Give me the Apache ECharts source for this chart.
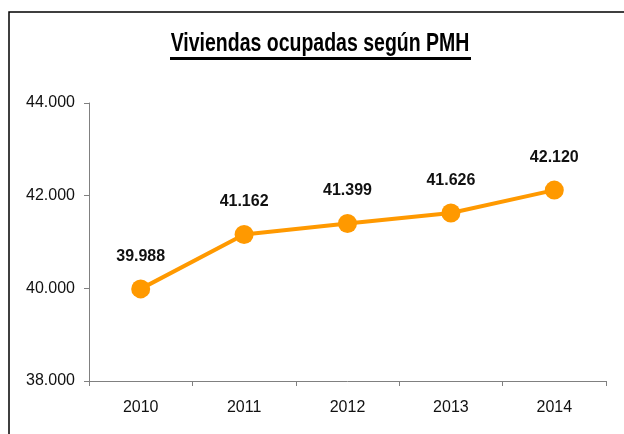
<!DOCTYPE html>
<html>
<head>
<meta charset="utf-8">
<style>
  html, body { margin: 0; padding: 0; background: #fff; }
  #chart { width: 624px; height: 434px; }
</style>
<script src="https://cdn.jsdelivr.net/npm/echarts@6/dist/echarts.min.js"></script>
</head>
<body>
<div id="chart"></div>
<script>
  // data
  var years = ['2010', '2011', '2012', '2013', '2014'];
  var viviendas = [39988, 41162, 41399, 41626, 42120];
  var yTicks = { min: 38000, max: 44000, interval: 2000 };
  var chartTitle = 'Viviendas ocupadas según PMH';

  function miles(v) {
    // 41162 -> "41.162"
    return (v / 1000).toFixed(3);
  }

  var myChart = echarts.init(document.getElementById('chart'));
  var font = 'Liberation Sans, Arial, sans-serif';

  var option = {
    backgroundColor: '#fff',
    animation: false,
    graphic: [
      {
        type: 'rect',
        shape: { x: 9, y: 12, width: 700, height: 500 },
        style: { fill: 'none', stroke: '#000', lineWidth: 1.5 },
        silent: true
      },
      {
        // title drawn narrow like the original
        type: 'text',
        x: 320,
        y: 44,
        scaleX: 0.78,
        style: {
          text: chartTitle,
          fill: '#000',
          font: 'bold 25px ' + font,
          textAlign: 'center',
          textVerticalAlign: 'middle'
        },
        silent: true
      },
      {
        type: 'rect',
        shape: { x: 170, y: 57, width: 301, height: 3 },
        style: { fill: '#000' },
        silent: true
      }
    ],
    grid: {
      left: 89,
      right: 18,
      top: 103,
      bottom: 53
    },
    xAxis: {
      type: 'category',
      data: years,
      boundaryGap: true,
      axisLine: { lineStyle: { color: '#808080', width: 1 } },
      axisTick: { show: true, length: 5, lineStyle: { color: '#808080' } },
      axisLabel: {
        margin: 19,
        fontFamily: font,
        fontSize: 16,
        color: '#111'
      }
    },
    yAxis: {
      type: 'value',
      min: yTicks.min,
      max: yTicks.max,
      interval: yTicks.interval,
      splitLine: { show: false },
      axisLine: { show: true, lineStyle: { color: '#808080', width: 1 } },
      axisTick: { show: true, length: 5, lineStyle: { color: '#808080' } },
      axisLabel: {
        margin: 14,
        fontFamily: font,
        fontSize: 16,
        color: '#111',
        formatter: miles
      }
    },
    series: [
      {
        name: 'Viviendas',
        type: 'line',
        data: viviendas,
        symbol: 'circle',
        symbolSize: 19,
        lineStyle: { color: '#FF9900', width: 4 },
        itemStyle: { color: '#FF9900' },
        label: {
          show: true,
          position: 'top',
          distance: 15,
          fontFamily: font,
          fontSize: 16,
          fontWeight: 'bold',
          color: '#111',
          formatter: function (p) { return miles(p.value); }
        }
      }
    ]
  };

  option && myChart.setOption(option);
</script>
</body>
</html>
